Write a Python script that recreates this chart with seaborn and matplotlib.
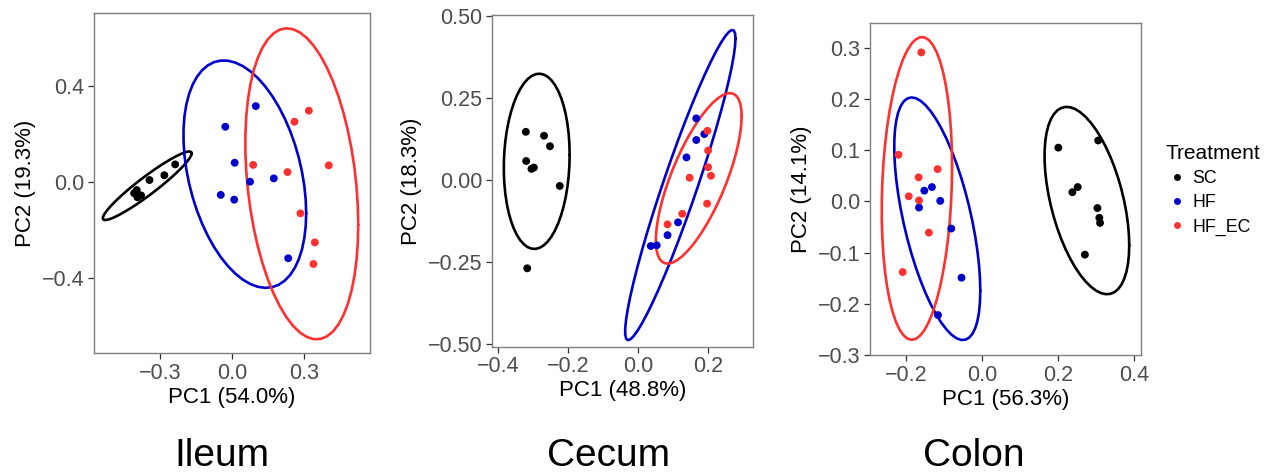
import numpy as np
import pandas as pd
import matplotlib
matplotlib.use('Agg')
import matplotlib.pyplot as plt
from matplotlib.lines import Line2D
import seaborn as sns

# PCA scores
ileum_group = ['SC'] * 7 + ['HF'] * 8 + ['HF_EC'] * 8
ileum_pc1 = [-0.236, -0.281, -0.343, -0.396, -0.407, -0.378, -0.393,
             0.100, -0.027, 0.012, 0.076, 0.175, -0.046, 0.010, 0.235,
             0.321, 0.261, 0.089, 0.232, 0.404, 0.286, 0.346, 0.340]
ileum_pc2 = [0.072, 0.027, 0.007, -0.035, -0.048, -0.057, -0.065,
             0.315, 0.229, 0.079, 0.000, 0.014, -0.055, -0.075, -0.319,
             0.296, 0.250, 0.070, 0.040, 0.068, -0.132, -0.253, -0.343]

cecum_group = ['SC'] * 8 + ['HF'] * 8 + ['HF_EC'] * 8
cecum_pc1 = [-0.321, -0.320, -0.305, -0.298, -0.269, -0.252, -0.224, -0.317,
             0.036, 0.053, 0.084, 0.114, 0.138, 0.166, 0.166, 0.189,
             0.084, 0.126, 0.147, 0.198, 0.200, 0.200, 0.208, 0.197]
cecum_pc2 = [0.147, 0.058, 0.034, 0.038, 0.135, 0.103, -0.018, -0.269,
             -0.201, -0.199, -0.168, -0.129, 0.069, 0.122, 0.188, 0.140,
             -0.135, -0.103, 0.007, 0.150, 0.090, 0.039, 0.013, -0.072]

colon_group = ['SC'] * 8 + ['HF'] * 7 + ['HF_EC'] * 8
colon_pc1 = [0.200, 0.305, 0.237, 0.251, 0.303, 0.308, 0.310, 0.270,
             -0.167, -0.153, -0.133, -0.111, -0.082, -0.055, -0.117,
             -0.161, -0.221, -0.168, -0.118, -0.194, -0.167, -0.141, -0.210]
colon_pc2 = [0.105, 0.119, 0.018, 0.028, -0.013, -0.032, -0.042, -0.104,
             -0.012, 0.021, 0.028, 0.001, -0.053, -0.149, -0.222,
             0.291, 0.091, 0.047, 0.063, 0.010, 0.002, -0.061, -0.138]

treatments = ['SC', 'HF', 'HF_EC']
colors = {'SC': '#000000', 'HF': '#0000CD', 'HF_EC': '#FF3030'}


def cov_trob(xy, nu=5, maxit=25, tol=0.01):
    # robust t covariance, as MASS::cov.trob used by ggplot's stat_ellipse
    n, p = xy.shape
    wt = np.ones(n)
    loc = xy.mean(axis=0)
    w = np.sqrt(wt)
    for _ in range(maxit):
        w0 = w
        X = xy - loc
        _, d, vt = np.linalg.svd(np.sqrt(w / w.sum())[:, None] * X, full_matrices=False)
        wX = X @ vt.T @ np.diag(1 / d)
        Q = (wX ** 2).sum(axis=1)
        w = wt * (nu + p) / (nu + Q)
        loc = (w[:, None] * xy).sum(axis=0) / w.sum()
        if np.all(np.abs(w - w0) < tol):
            break
    sw = np.sqrt(w)[:, None] * X
    return loc, sw.T @ sw / wt.sum()


def ellipse_df(df, level=0.95, segments=51):
    rows = []
    for g in treatments:
        xy = df.loc[df.Treatment == g, ['PC1', 'PC2']].to_numpy()
        center, shape = cov_trob(xy)
        dfd = len(xy) - 1
        radius = np.sqrt(2 * dfd / 2 * ((1 - level) ** (-2 / dfd) - 1))
        ang = np.linspace(0, 2 * np.pi, segments + 1)
        circle = np.column_stack([np.cos(ang), np.sin(ang)])
        pts = center + radius * circle @ np.linalg.cholesky(shape).T
        rows.append(pd.DataFrame({'PC1': pts[:, 0], 'PC2': pts[:, 1], 'Treatment': g}))
    return pd.concat(rows, ignore_index=True)


sns.set_style('white')
plt.rcParams['font.family'] = ['Liberation Sans', 'DejaVu Sans']
plt.rcParams['text.color'] = 'black'

fig = plt.figure(figsize=(12.69, 4.75), dpi=100)

panels = [
    ('Ileum', ileum_group, ileum_pc1, ileum_pc2, 'PC1 (54.0%)', 'PC2 (19.3%)',
     [0.0741, 0.2568, 0.2175, 0.7158], (-0.574, 0.576), (-0.714, 0.703),
     [-0.3, 0.0, 0.3], [-0.4, 0.0, 0.4], 1, 222 / 1269),
    ('Cecum', cecum_group, cecum_pc1, cecum_pc2, 'PC1 (48.8%)', 'PC2 (18.3%)',
     [0.3879, 0.2701, 0.2057, 0.6983], (-0.417, 0.329), (-0.508, 0.503),
     [-0.4, -0.2, 0.0, 0.2], [-0.5, -0.25, 0.0, 0.25, 0.5], 2, 609 / 1269),
    ('Colon', colon_group, colon_pc1, colon_pc2, 'PC1 (56.3%)', 'PC2 (14.1%)',
     [0.6856, 0.2526, 0.2133, 0.6996], (-0.296, 0.417), (-0.298, 0.349),
     [-0.2, 0.0, 0.2, 0.4], [-0.3, -0.2, -0.1, 0.0, 0.1, 0.2, 0.3], 1, 974 / 1269),
]

for (name, grp, pc1, pc2, xl, yl, pos, xlim, ylim, xt, yt, ydec, tx) in panels:
    ax = fig.add_axes(pos)
    df = pd.DataFrame({'PC1': pc1, 'PC2': pc2, 'Treatment': grp})
    ell = ellipse_df(df)
    sns.lineplot(data=ell, x='PC1', y='PC2', hue='Treatment', palette=colors,
                 hue_order=treatments, sort=False, estimator=None,
                 linewidth=1.9, legend=False, ax=ax)
    sns.scatterplot(data=df, x='PC1', y='PC2', hue='Treatment', palette=colors,
                    hue_order=treatments, s=32, edgecolor='none',
                    legend=False, ax=ax, zorder=3)
    ax.set_xlim(xlim)
    ax.set_ylim(ylim)
    ax.set_xticks(xt)
    ax.set_yticks(yt)
    ax.set_xticklabels([f'{v:.1f}'.replace('-', '\u2212') for v in xt])
    ax.set_yticklabels([f'{v:.{ydec}f}'.replace('-', '\u2212') for v in yt])
    ax.tick_params(axis='both', direction='out', length=4, width=0.9,
                   color='#333333', labelsize=15.5, labelcolor='#4D4D4D', pad=3,
                   bottom=True, left=True)
    for sp in ax.spines.values():
        sp.set_color('#7F7F7F')
        sp.set_linewidth(1.0)
    ax.set_xlabel(xl, fontsize=16, color='black', labelpad=2)
    ax.set_ylabel(yl, fontsize=16, color='black', labelpad=4)
    fig.text(tx, 1 - 466 / 475, name, fontsize=28, color='black',
             ha='center', va='baseline')

handles = [Line2D([0], [0], marker='o', linestyle='', markersize=5,
                  markerfacecolor=colors[t], markeredgecolor='none') for t in treatments]
fig.legend(handles, treatments, title='Treatment', loc='upper left',
           bbox_to_anchor=(1150 / 1269, 1 - 128 / 475), frameon=False,
           fontsize=12.8, title_fontsize=15, handletextpad=0.3,
           labelspacing=0.4, handlelength=1.2, alignment='left',
           labelcolor='black')

fig.savefig('out.png', dpi=100)
